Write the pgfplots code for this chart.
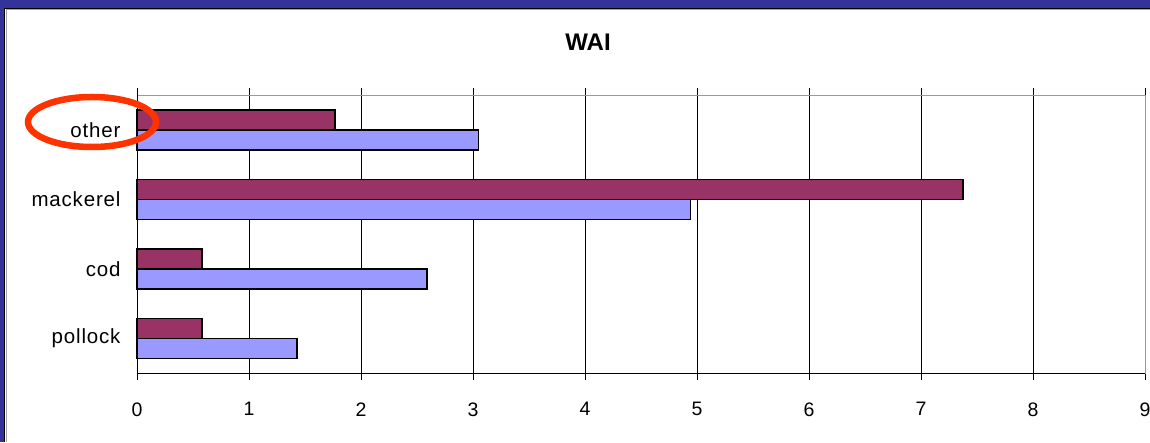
\documentclass[border=0pt]{standalone}
\usepackage{pgfplots}
\pgfplotsset{compat=1.18}
\usepackage{fontspec}
\setmainfont{Liberation Sans}
\definecolor{framebg}{HTML}{333399}
\definecolor{barmaroon}{HTML}{993366}
\definecolor{barlilac}{HTML}{9999FF}
\definecolor{markred}{HTML}{FF3300}
\begin{document}
\begin{tikzpicture}[x=1pt,y=1pt]
% slide frame
\fill[framebg] (0,0) rectangle (1150,442);
\fill[white] (5,0) rectangle (1150,433);
\draw[black,line width=1pt] (4.5,0) -- (4.5,433.5) -- (1150,433.5);
\draw[gray!70,line width=0.8pt] (6,0) -- (6,432.5) -- (1150,432.5);
\node[font=\bfseries\fontsize{24}{28}\selectfont] at (588,400) {WAI};
\begin{axis}[
  at={(137pt,69pt)}, anchor=south west,
  width=1008pt, height=278pt, scale only axis,
  xbar, bar width=20pt,
  xmin=0, xmax=9, ymin=-0.5, ymax=3.5,
  xtick={0,...,9},
  ytick={0,1,2,3},
  yticklabels={pollock,cod,mackerel,other},
  minor ytick={-0.5,0.5,1.5,2.5,3.5},
  xmajorgrids, major grid style={black, line width=0.8pt},
  tick align=outside,
  major tick length=7pt,
  ytick style={draw=none},
  minor tick length=7pt,
  minor tick style={black, line width=0.8pt},
  xtick style={black, line width=0.8pt},
  axis line style={gray!80, line width=1pt},
  /pgf/number format/assume math mode=true,
  xticklabel style={font=\fontsize{19.5}{22}\selectfont, yshift=-19pt},
  yticklabel style={font=\fontsize{20.5}{24}\selectfont\addfontfeature{LetterSpace=4}, xshift=-6pt},
  clip=false,
]
\addplot[fill=barlilac, draw=black, line width=1.5pt, bar shift=-10pt]
  coordinates {(1.43,0) (2.59,1) (4.94,2) (3.05,3)};
\addplot[fill=barmaroon, draw=black, line width=1.5pt, bar shift=10pt]
  coordinates {(0.58,0) (0.58,1) (7.375,2) (1.77,3)};
\draw[black, line width=1pt] (rel axis cs:0,1) -- (rel axis cs:0,0) -- (rel axis cs:1,0);
\end{axis}
% highlight ring
\draw[markred, line width=6.5pt] (92,320) ellipse [x radius=64pt, y radius=25pt];
% page ends at the slide edge; the last tick label runs past it
\pgfresetboundingbox
\path[use as bounding box] (0,0) rectangle (1150,442);
\end{tikzpicture}
\end{document}
